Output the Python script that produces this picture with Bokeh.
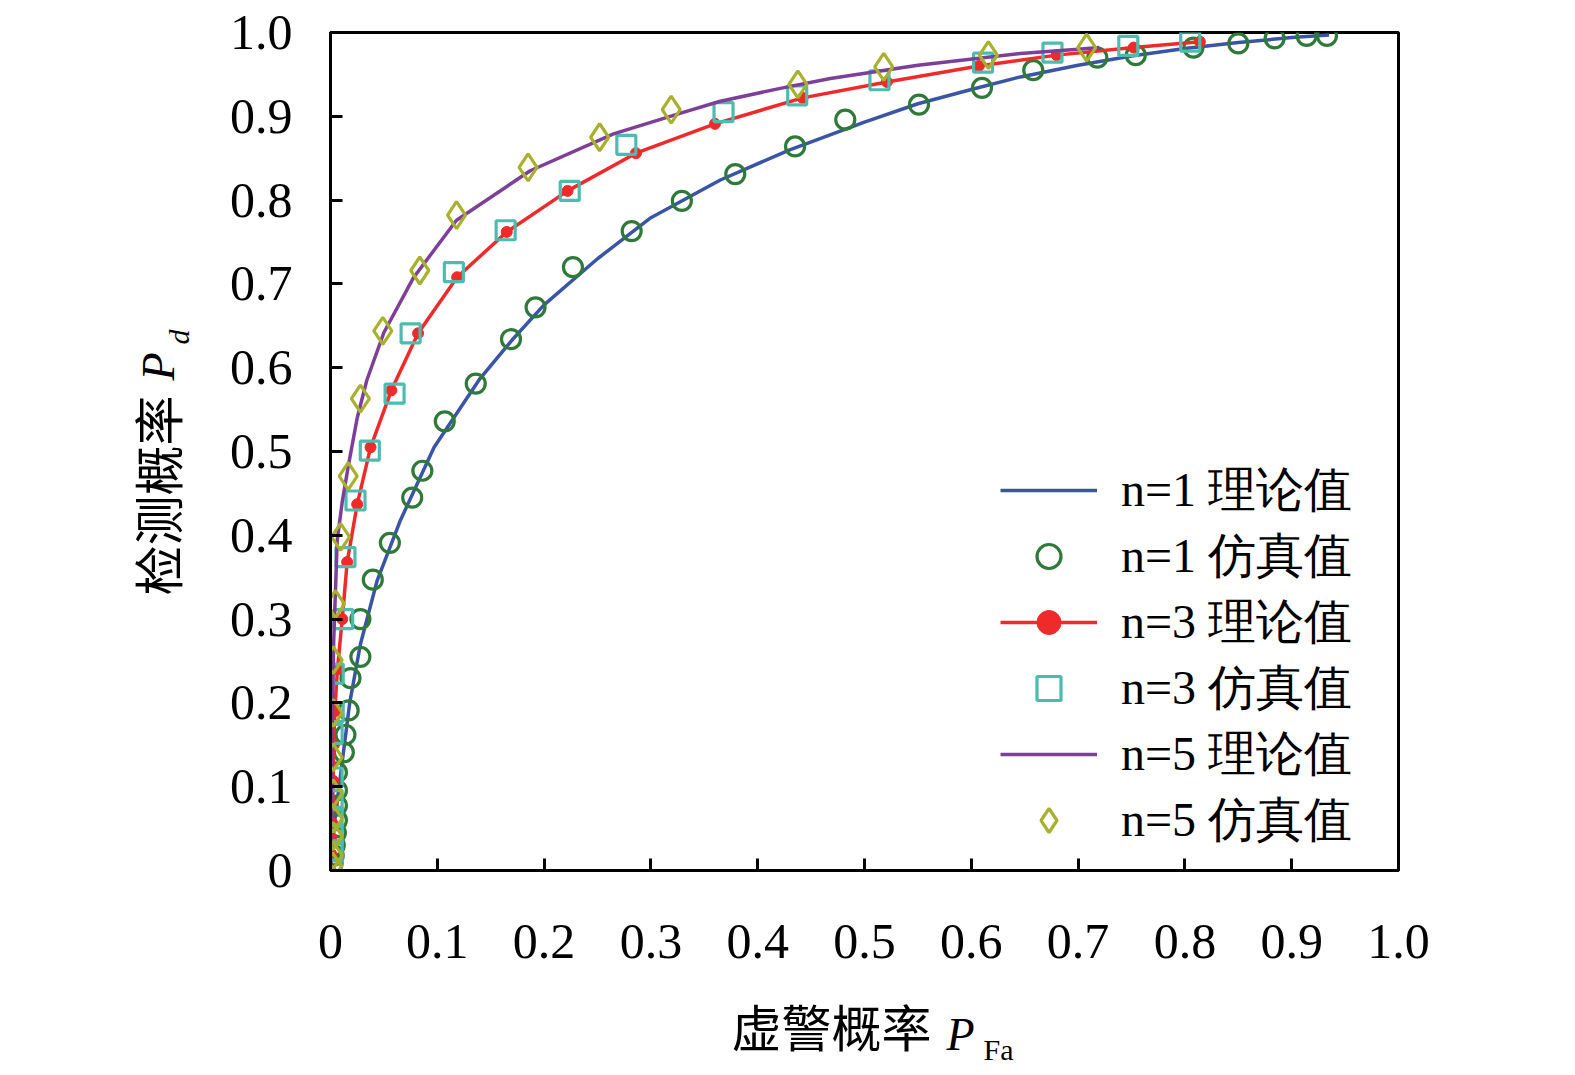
import math
from bokeh.plotting import figure
from bokeh.models import (Range1d, FixedTicker, CustomJSTickFormatter, Label,
                          Legend, LegendItem)
from bokeh.embed import file_html
from bokeh.resources import INLINE

# ---------------- data ----------------
n1_theory_x = [0, 0.002, 0.004, 0.0075, 0.012, 0.018, 0.028, 0.0437, 0.0655, 0.097,
               0.14, 0.17, 0.2, 0.25, 0.3, 0.365, 0.43, 0.5, 0.55, 0.6, 0.646, 0.7,
               0.75, 0.8, 0.85, 0.9, 0.935]
n1_theory_y = [0, 0.03, 0.06, 0.095, 0.14, 0.2, 0.27, 0.346, 0.418, 0.505,
               0.587, 0.633, 0.675, 0.73, 0.779, 0.824, 0.86, 0.893, 0.915, 0.932, 0.947, 0.961,
               0.972, 0.981, 0.988, 0.994, 0.997]

n1_sim_x = [0.002, 0.003, 0.004, 0.005, 0.006, 0.006, 0.006, 0.006, 0.0125, 0.014,
            0.017, 0.0187, 0.028, 0.028, 0.0396, 0.0556, 0.0765, 0.086, 0.107, 0.136,
            0.169, 0.192, 0.227, 0.282, 0.329, 0.379, 0.435, 0.482, 0.551, 0.610,
            0.658, 0.718, 0.754, 0.808, 0.850, 0.884, 0.914, 0.933]
n1_sim_y = [0.008, 0.018, 0.03, 0.045, 0.060, 0.0775, 0.0955, 0.117, 0.141, 0.162,
            0.191, 0.2295, 0.255, 0.300, 0.347, 0.391, 0.445, 0.477, 0.536, 0.581,
            0.634, 0.672, 0.720, 0.763, 0.799, 0.831, 0.864, 0.896, 0.914, 0.934,
            0.955, 0.970, 0.973, 0.982, 0.987, 0.993, 0.996, 0.996]

n3_theory_x = [0, 0.0005, 0.001, 0.0015, 0.002, 0.0025, 0.003, 0.004, 0.0065, 0.011,
               0.0156, 0.025, 0.0375, 0.057, 0.082, 0.1186, 0.165, 0.222, 0.286, 0.360,
               0.442, 0.521, 0.607, 0.680, 0.752, 0.814]
n3_theory_y = [0, 0.02, 0.039, 0.057, 0.078, 0.107, 0.15, 0.19, 0.24, 0.300,
               0.368, 0.437, 0.505, 0.573, 0.641, 0.708, 0.762, 0.811, 0.856, 0.891,
               0.922, 0.941, 0.960, 0.973, 0.982, 0.989]

n3_sim_x = [0.001, 0.002, 0.002, 0.002, 0.002, 0.002, 0.002, 0.003, 0.003, 0.0119,
            0.014, 0.0234, 0.0368, 0.060, 0.075, 0.1155, 0.164, 0.224, 0.277, 0.368,
            0.437, 0.514, 0.611, 0.676, 0.747, 0.805]
n3_sim_y = [0.0, 0.024, 0.043, 0.064, 0.084, 0.111, 0.163, 0.189, 0.235, 0.300,
            0.374, 0.4415, 0.501, 0.569, 0.641, 0.714, 0.764, 0.811, 0.866, 0.905,
            0.925, 0.943, 0.964, 0.976, 0.984, 0.989]

n5_theory_x = [0, 0.0005, 0.001, 0.002, 0.003, 0.0063, 0.011, 0.017, 0.025, 0.034,
               0.05, 0.078, 0.118, 0.187, 0.265, 0.331, 0.365, 0.42, 0.468, 0.55,
               0.646, 0.70, 0.72]
n5_theory_y = [0, 0.06, 0.12, 0.2, 0.274, 0.394, 0.44, 0.485, 0.54, 0.585,
               0.642, 0.708, 0.776, 0.835, 0.879, 0.905, 0.918, 0.933, 0.945, 0.961,
               0.975, 0.980, 0.982]

n5_sim_x = [0.002, 0.0025, 0.0025, 0.0025, 0.0025, 0.0025, 0.0025, 0.0025, 0.0047, 0.0094,
            0.0166, 0.028, 0.049, 0.0836, 0.118, 0.185, 0.252, 0.319, 0.4376, 0.518,
            0.616, 0.708]
n5_sim_y = [0.005, 0.018, 0.041, 0.062, 0.092, 0.135, 0.188, 0.251, 0.318, 0.398,
            0.4705, 0.563, 0.644, 0.716, 0.782, 0.839, 0.875, 0.908, 0.938, 0.959,
            0.973, 0.982]

tick_values = [0, 0.1, 0.2, 0.3, 0.4, 0.5, 0.6, 0.7, 0.8, 0.9, 1.0]
tick_labels = ["0", "0.1", "0.2", "0.3", "0.4", "0.5", "0.6", "0.7", "0.8", "0.9", "1.0"]

legend_labels = ["n=1 理论值", "n=1 仿真值", "n=3 理论值", "n=3 仿真值",
                 "n=5 理论值", "n=5 仿真值"]

x_label_cn = "虚警概率"
y_label_cn = "检测概率"

# ---------------- styling ----------------
SERIF = "Liberation Serif"
CJK = "Noto Sans CJK SC"
BLUE = "#3a55a6"
GREEN = "#2f7a38"
RED = "#ee2a2a"
TEAL = "#4dbcb0"
PURPLE = "#7e3f98"
OLIVE = "#a8b12d"

W, H = 1563, 1071
FL, FT, FW, FH = 330, 32, 1068, 838

p = figure(width=W, height=H, output_backend="svg", toolbar_location=None,
           x_range=Range1d(0, 1), y_range=Range1d(0, 1),
           min_border_left=FL, min_border_top=FT,
           min_border_right=W - FL - FW, min_border_bottom=H - FT - FH,
           background_fill_color="white", border_fill_color="white")
p.outline_line_color = "black"
p.outline_line_width = 3
p.outline_line_alpha = 1
p.xgrid.visible = False
p.ygrid.visible = False

fmt = CustomJSTickFormatter(args=dict(tvals=tick_values, tlabs=tick_labels), code="""
const i = tvals.findIndex(t => Math.abs(t - tick) < 1e-9);
return i >= 0 ? tlabs[i] : '';
""")
for ax in (p.xaxis[0], p.yaxis[0]):
    ax.ticker = FixedTicker(ticks=tick_values)
    ax.formatter = fmt
    ax.axis_line_width = 3
    ax.axis_line_color = "black"
    ax.major_tick_in = 12
    ax.major_tick_out = 0
    ax.major_tick_line_width = 3
    ax.minor_tick_line_color = None
    ax.major_label_text_font = SERIF
    ax.major_label_text_font_size = "50px"
    ax.major_label_text_color = "black"
p.xaxis[0].major_label_standoff = 54
p.yaxis[0].major_label_standoff = 38

# ---------------- glyphs ----------------
r1l = p.line(n1_theory_x, n1_theory_y, line_color=BLUE, line_width=3.5)
r1s = p.scatter(n1_sim_x, n1_sim_y, marker="circle", size=19, fill_color=None,
                line_color=GREEN, line_width=3.2)
r3l = p.line(n3_theory_x, n3_theory_y, line_color=RED, line_width=3.5)
r3d = p.scatter(n3_theory_x, n3_theory_y, marker="circle", size=11, fill_color=RED,
                line_color=RED, line_width=1)
r3s = p.scatter(n3_sim_x, n3_sim_y, marker="square", size=19, fill_color=None,
                line_color=TEAL, line_width=3.2)
r5l = p.line(n5_theory_x, n5_theory_y, line_color=PURPLE, line_width=3.5)
r5s = p.scatter(n5_sim_x, n5_sim_y, marker="diamond", size=27, fill_color=None,
                line_color=OLIVE, line_width=3.2)

legend = Legend(items=[
    LegendItem(label=legend_labels[0], renderers=[r1l]),
    LegendItem(label=legend_labels[1], renderers=[r1s]),
    LegendItem(label=legend_labels[2], renderers=[r3l, r3d]),
    LegendItem(label=legend_labels[3], renderers=[r3s]),
    LegendItem(label=legend_labels[4], renderers=[r5l]),
    LegendItem(label=legend_labels[5], renderers=[r5s]),
], location=(670, 17), orientation="vertical")
legend.background_fill_alpha = 0
legend.border_line_color = None
legend.padding = 0
legend.margin = 0
legend.spacing = 0
legend.glyph_width = 97
legend.glyph_height = 60
legend.label_height = 66
legend.label_standoff = 24
legend.label_text_font = SERIF
legend.label_text_font_size = "48px"
legend.label_text_color = "black"
legend.label_text_baseline = "middle"
p.add_layout(legend)

# ---------------- axis titles ----------------
# Labels live in side panels that have room to spare, so they are not clipped to
# the frame; their positions are data coordinates of the fixed 0..1 ranges.
def dx(px):  # canvas px -> data x
    return (px - FL) / FW

def dy(py):  # canvas px -> data y
    return (FT + FH - py) / FH

p.add_layout(Label(x=dx(731), y=dy(1024), text=x_label_cn, text_font=CJK,
                   text_font_size="50px", text_color="black",
                   text_align="left", text_baseline="middle"), "below")
p.add_layout(Label(x=dx(946), y=dy(1034), text="P", text_font=SERIF,
                   text_font_style="italic", text_font_size="46px", text_color="black",
                   text_align="left", text_baseline="middle"), "right")
p.add_layout(Label(x=dx(983), y=dy(1049), text="Fa", text_font=SERIF,
                   text_font_size="30px", text_color="black",
                   text_align="left", text_baseline="middle"), "left")

p.add_layout(Label(x=dx(155), y=dy(595), text=y_label_cn, text_font=CJK,
                   text_font_size="50px", text_color="black", angle=math.pi / 2,
                   text_align="left", text_baseline="middle"), "left")
p.add_layout(Label(x=dx(158), y=dy(380), text="P", text_font=SERIF,
                   text_font_style="italic", text_font_size="46px", text_color="black",
                   angle=math.pi / 2, text_align="left", text_baseline="middle"), "left")
p.add_layout(Label(x=dx(178), y=dy(344), text="d", text_font=SERIF,
                   text_font_style="italic", text_font_size="30px", text_color="black",
                   angle=math.pi / 2, text_align="left", text_baseline="middle"), "left")

open("out.html", "w").write(file_html(p, INLINE))
